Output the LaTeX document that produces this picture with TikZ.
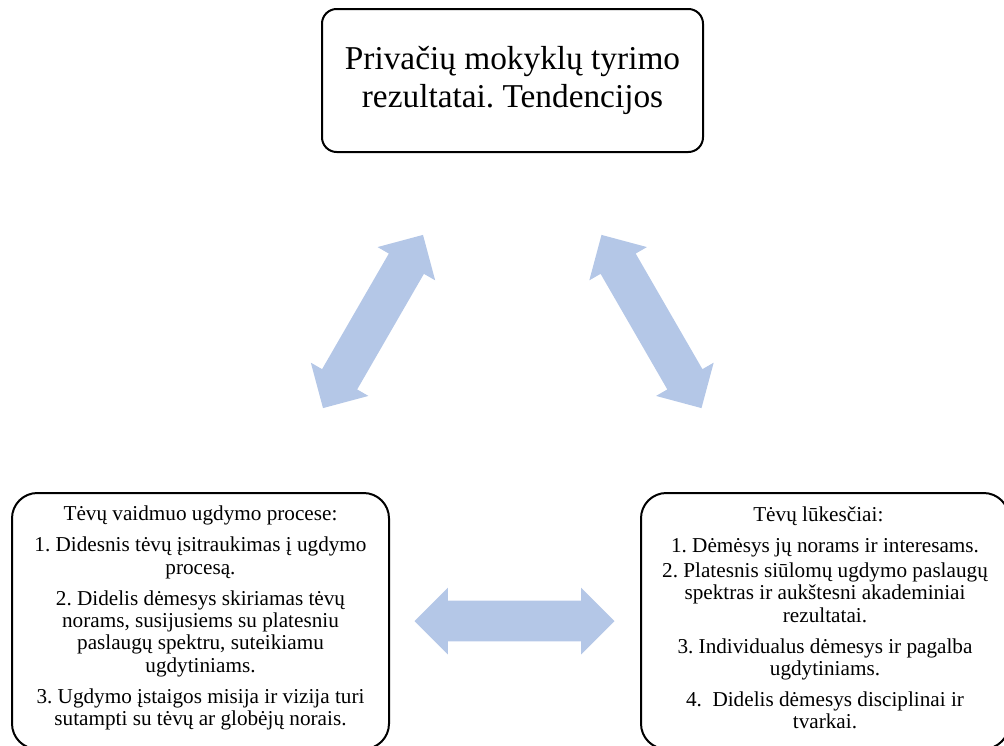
\documentclass[tikz,border=0pt]{standalone}
\usepackage{xcolor}
\usepackage{fontspec}
\setmainfont{Liberation Serif}
\usepackage{tikz}
\usetikzlibrary{shapes.arrows}
\definecolor{linkblue}{HTML}{B4C7E7}
\frenchspacing

\begin{document}
\begin{tikzpicture}[x=0.75pt,y=-0.75pt,
		box/.style={draw,line width=1.5pt,rounded corners=#1,align=center,inner sep=0pt},
		small text/.style={font=\fontsize{15.9}{16.75}\selectfont},
		link/.style={double arrow,fill=linkblue,draw=none,inner sep=15pt,
			minimum height=150pt,
			double arrow head extend=9.75pt,double arrow tip angle=90}]
		\clip (0,0) rectangle (1004,746);
		\node[box=11pt,minimum width=285.75pt,minimum height=107.25pt,
			font=\fontsize{25}{28.5}\selectfont] (res) at (512.5,80.5)
			{Privačių mokyklų tyrimo\\rezultatai. Tendencijos};
		\node[box=19pt,small text,minimum width=282.75pt,minimum height=192pt] (role) at (200.5,621)
			{Tėvų vaidmuo ugdymo procese:\\[6.5pt]
			1. Didesnis tėvų įsitraukimas į ugdymo\\
			procesą.\\[6.5pt]
			2. Didelis dėmesys skiriamas tėvų\\
			norams, susijusiems su platesniu\\
			paslaugų spektru, suteikiamu\\
			ugdytiniams.\\[6.5pt]
			3. Ugdymo įstaigos misija ir vizija turi\\
			sutampti su tėvų ar globėjų norais.\vspace*{4.5pt}};
		\node[box=19pt,small text,minimum width=276pt,minimum height=192pt] (hope) at (825,621)
			{Tėvų lūkesčiai:\hspace*{10pt}\\[6.5pt]
			1. Dėmėsys jų norams ir interesams.\\[2pt]
			2. Platesnis siūlomų ugdymo paslaugų\\
			spektras ir aukštesni akademiniai\\
			rezultatai.\\[6.5pt]
			3. Individualus dėmesys ir pagalba\\
			ugdytiniams.\\[6.5pt]
			4.~~Didelis dėmesys disciplinai ir\\
			tvarkai.\vspace*{4.5pt}};
		\node[link,rotate=60] (l1) at (373,321.5) {};
		\node[link,rotate=-60] (l2) at (651.5,321.5) {};
		\node[link] (l3) at (514.5,621) {};
	\end{tikzpicture}
\end{document}
